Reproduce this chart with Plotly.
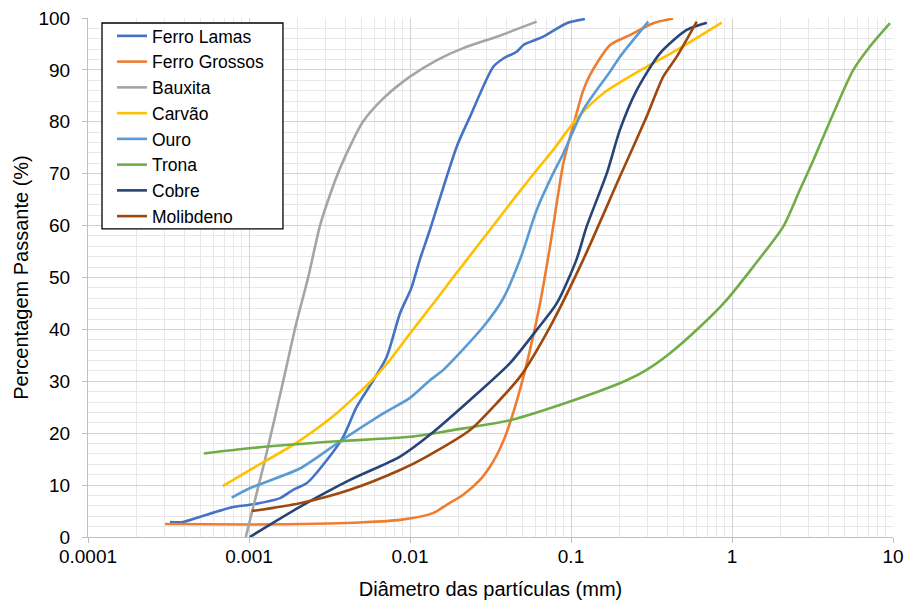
import plotly.graph_objects as go

# ---- data (diameter in mm, percent passing) ----
ferro_lamas_x = [3.23e-4, 3.89e-4, 4.97e-4, 7.96e-4, 1.01e-3, 1.56e-3, 1.88e-3, 2.29e-3, 3.04e-3, 3.85e-3,
                 4.67e-3, 5.92e-3, 7.16e-3, 8.67e-3, 0.0102, 0.0115, 0.0133, 0.0195, 0.0236, 0.0329,
                 0.0380, 0.046, 0.0506, 0.0673, 0.094, 0.122]
ferro_lamas_y = [2.9, 2.9, 3.9, 5.8, 6.2, 7.5, 9.1, 10.4, 14.8, 19.3,
                 25.1, 30.2, 34.7, 43.1, 48.0, 53.4, 59.2, 75.2, 81.0, 90.6,
                 92.2, 93.5, 94.8, 96.4, 99.0, 99.8]

ferro_grossos_x = [3.01e-4, 1.0e-3, 3.18e-3, 4.89e-3, 8.67e-3, 0.0139, 0.0169, 0.0215, 0.0272, 0.0313,
                   0.0346, 0.0380, 0.0418, 0.0483, 0.0556, 0.0642, 0.0741, 0.0896, 0.0994, 0.108,
                   0.119, 0.131, 0.175, 0.232, 0.324, 0.431]
ferro_grossos_y = [2.5, 2.4, 2.6, 2.8, 3.3, 4.6, 6.2, 8.2, 11.0, 13.5,
                   15.8, 18.5, 22.0, 28.5, 36.0, 45.0, 56.0, 72.0, 77.5, 81.5,
                   86.0, 89.0, 94.8, 96.7, 99.0, 99.9]

bauxita_x = [9.55e-4, 1.26e-3, 1.63e-3, 1.96e-3, 2.33e-3, 2.76e-3, 3.19e-3, 3.67e-3, 4.35e-3, 5.10e-3,
             6.83e-3, 0.01, 0.0147, 0.0214, 0.0346, 0.0612]
bauxita_y = [0.0, 15.0, 30.0, 41.0, 50.0, 60.0, 66.0, 71.0, 76.0, 80.0,
             84.5, 88.7, 91.9, 94.2, 96.4, 99.3]

carvao_x = [6.87e-4, 1.01e-3, 1.98e-3, 3.34e-3, 5.81e-3, 7.51e-3, 0.01, 0.0147, 0.0182, 0.0225,
            0.0346, 0.0483, 0.0612, 0.0776, 0.108, 0.159, 0.295, 0.453, 0.863]
carvao_y = [9.8, 12.9, 18.2, 23.3, 30.2, 34.1, 39.2, 45.9, 49.7, 53.4,
            60.9, 66.7, 70.7, 74.6, 80.5, 85.5, 90.6, 93.8, 99.1]

ouro_x = [7.81e-4, 1.01e-3, 2.07e-3, 3.67e-3, 6.83e-3, 0.01, 0.0133, 0.0161, 0.0285, 0.0380,
          0.0483, 0.0612, 0.0776, 0.0896, 0.119, 0.175, 0.201, 0.302]
ouro_y = [7.6, 9.4, 13.2, 18.4, 23.8, 26.8, 30.2, 32.2, 40.5, 46.0,
          53.5, 63.0, 70.1, 73.9, 82.3, 89.7, 92.5, 99.3]

trona_x = [5.25e-4, 1.01e-3, 3.34e-3, 0.01, 0.0177, 0.0418, 0.0986, 0.222, 0.295, 0.412,
           0.633, 0.927, 1.356, 2.08, 2.64, 3.20, 4.26, 5.67, 7.19, 9.58]
trona_y = [16.1, 17.1, 18.4, 19.3, 20.5, 22.5, 26.1, 30.2, 32.2, 35.4,
           40.5, 45.7, 52.1, 59.8, 66.9, 72.6, 81.6, 90.0, 94.5, 99.0]

cobre_x = [1.01e-3, 2.07e-3, 4.24e-3, 8.67e-3, 0.0133, 0.0236, 0.0418, 0.0612, 0.0815, 0.108,
           0.125, 0.167, 0.201, 0.256, 0.357, 0.523, 0.697]
cobre_y = [0.0, 5.8, 11.0, 15.5, 19.7, 26.4, 33.5, 39.9, 45.0, 53.4,
           59.8, 70.1, 78.4, 86.1, 93.2, 97.7, 99.1]

molibdeno_x = [1.04e-3, 2.07e-3, 4.24e-3, 8.67e-3, 0.0127, 0.0236, 0.0346, 0.0483, 0.0741, 0.119,
               0.201, 0.295, 0.374, 0.453, 0.604]
molibdeno_y = [5.0, 6.5, 9.1, 12.9, 15.5, 20.6, 25.8, 30.9, 40.5, 53.4,
               69.4, 81.0, 88.7, 92.5, 99.3]

series_names = ["Ferro Lamas", "Ferro Grossos", "Bauxita", "Carvão", "Ouro", "Trona", "Cobre", "Molibdeno"]
series_x = [ferro_lamas_x, ferro_grossos_x, bauxita_x, carvao_x, ouro_x, trona_x, cobre_x, molibdeno_x]
series_y = [ferro_lamas_y, ferro_grossos_y, bauxita_y, carvao_y, ouro_y, trona_y, cobre_y, molibdeno_y]
series_colors = ["#4472C4", "#ED7D31", "#A5A5A5", "#FFC000", "#5B9BD5", "#70AD47", "#264478", "#9E480E"]

x_tickvals = [0.0001, 0.001, 0.01, 0.1, 1, 10]
x_ticktext = ["0.0001", "0.001", "0.01", "0.1", "1", "10"]

FONT = "Liberation Sans, Arial, sans-serif"

fig = go.Figure()
for name, xs, ys, col in zip(series_names, series_x, series_y, series_colors):
    fig.add_trace(go.Scatter(x=xs, y=ys, name=name, mode="lines",
                             line=dict(color=col, width=2.6, shape="spline", smoothing=0.7)))

# legend frame (white box with black border) drawn over the plot area
fig.add_shape(type="rect", xref="paper", yref="paper",
              x0=0.0174, x1=0.2422, y0=0.5935, y1=0.9904,
              fillcolor="white", line=dict(color="#000000", width=1.3), layer="above")

fig.update_layout(
    width=909, height=600,
    margin=dict(l=88, r=16, t=18, b=63),
    paper_bgcolor="white", plot_bgcolor="white",
    font=dict(family=FONT, size=18, color="#000000"),
    showlegend=True,
    legend=dict(x=0.0298, y=1.0000, xanchor="left", yanchor="top",
                bgcolor="rgba(0,0,0,0)", borderwidth=0,
                font=dict(family=FONT, size=17.5, color="#000000"),
                itemwidth=30, tracegroupgap=0),
)

fig.update_xaxes(
    type="log", range=[-4, 1], automargin=False,
    tickvals=x_tickvals, ticktext=x_ticktext,
    tickfont=dict(size=19),
    showgrid=True, gridcolor="#D4D4D4", gridwidth=1,
    minor=dict(dtick="D1", showgrid=True, gridcolor="#E8E8E8", gridwidth=1, ticks=""),
    showline=True, linecolor="#BFBFBF", linewidth=1,
    ticks="outside", ticklen=5, tickcolor="#BFBFBF",
    ticklabelstandoff=-3,
    zeroline=False,
    title=dict(text="Diâmetro das partículas (mm)", font=dict(size=20), standoff=17),
)
fig.update_yaxes(
    range=[0, 100], dtick=10, automargin=False,
    tickfont=dict(size=19),
    showgrid=True, gridcolor="#D4D4D4", gridwidth=1,
    minor=dict(dtick=2, showgrid=True, gridcolor="#E8E8E8", gridwidth=1, ticks=""),
    showline=True, linecolor="#BFBFBF", linewidth=1,
    ticks="outside", ticklen=5, tickcolor="#BFBFBF",
    ticklabelstandoff=8,
    zeroline=False,
    title=dict(text="Percentagem Passante (%)", font=dict(size=20), standoff=4),
)

fig.write_html("out.html")
